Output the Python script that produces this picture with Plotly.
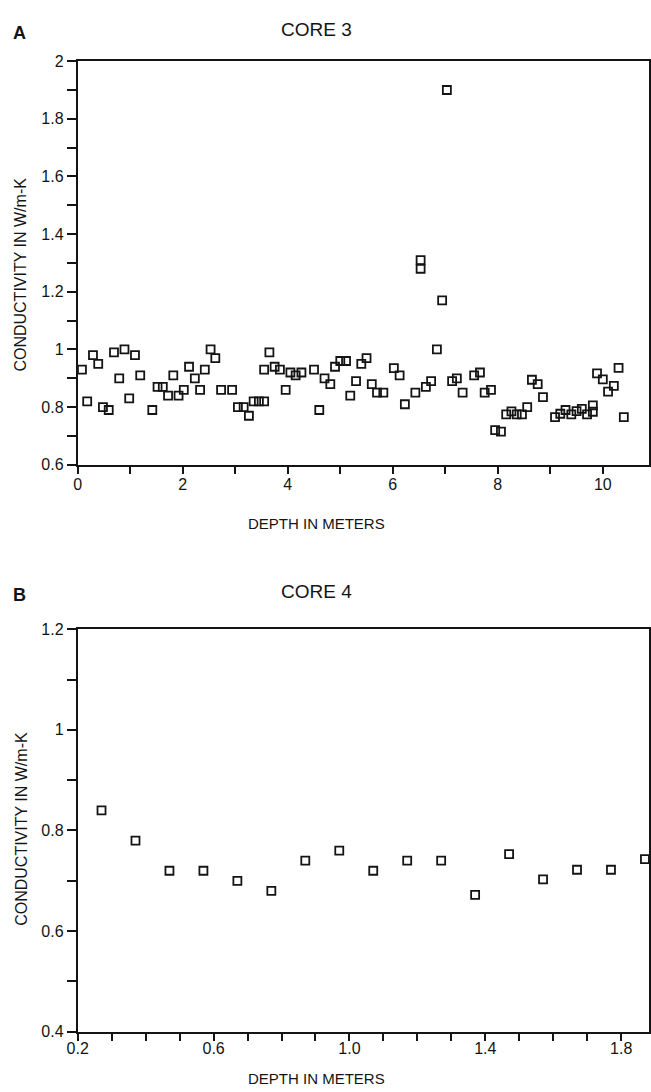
import plotly.graph_objects as go

# ---- Panel A: CORE 3 ----
core3_depth = [0.08, 0.18, 0.29, 0.39, 0.48, 0.59, 0.69, 0.79, 0.89, 0.98,
               1.09, 1.19, 1.42, 1.52, 1.62, 1.72, 1.82, 1.92, 2.02, 2.12,
               2.23, 2.33, 2.42, 2.53, 2.62, 2.73, 2.94, 3.05, 3.16, 3.26,
               3.35, 3.45, 3.55, 3.55, 3.65, 3.75, 3.85, 3.96, 4.05, 4.15,
               4.26, 4.50, 4.60, 4.70, 4.81, 4.90, 5.00, 5.11, 5.19, 5.30,
               5.40, 5.50, 5.60, 5.70, 5.82, 6.02, 6.13, 6.23, 6.43, 6.53,
               6.53, 6.63, 6.73, 6.84, 6.94, 7.03, 7.13, 7.22, 7.33, 7.55,
               7.66, 7.75, 7.87, 7.95, 8.06, 8.16, 8.26, 8.36, 8.46, 8.56,
               8.65, 8.76, 8.86, 9.09, 9.19, 9.29, 9.40, 9.50, 9.60, 9.70,
               9.81, 9.81, 9.89, 10.00, 10.10, 10.21, 10.30, 10.40]
core3_cond = [0.93, 0.82, 0.98, 0.95, 0.80, 0.79, 0.99, 0.90, 1.00, 0.83,
              0.98, 0.91, 0.79, 0.87, 0.87, 0.84, 0.91, 0.84, 0.86, 0.94,
              0.90, 0.86, 0.93, 1.00, 0.97, 0.86, 0.86, 0.80, 0.80, 0.77,
              0.82, 0.82, 0.82, 0.93, 0.99, 0.94, 0.93, 0.86, 0.92, 0.91,
              0.92, 0.93, 0.79, 0.90, 0.88, 0.94, 0.96, 0.96, 0.84, 0.89,
              0.95, 0.97, 0.88, 0.85, 0.85, 0.935, 0.91, 0.81, 0.85, 1.31,
              1.28, 0.87, 0.89, 1.00, 1.17, 1.90, 0.89, 0.90, 0.85, 0.91,
              0.92, 0.85, 0.86, 0.72, 0.715, 0.775, 0.785, 0.775, 0.775, 0.80,
              0.895, 0.88, 0.835, 0.765, 0.777, 0.79, 0.775, 0.786, 0.794, 0.775,
              0.806, 0.784, 0.917, 0.896, 0.854, 0.874, 0.936, 0.765]

# ---- Panel B: CORE 4 ----
core4_depth = [0.27, 0.37, 0.47, 0.57, 0.67, 0.77, 0.87, 0.97, 1.07, 1.17,
               1.27, 1.37, 1.47, 1.57, 1.67, 1.77, 1.87]
core4_cond = [0.84, 0.78, 0.72, 0.72, 0.70, 0.68, 0.74, 0.76, 0.72, 0.74,
              0.74, 0.672, 0.753, 0.703, 0.722, 0.722, 0.743]

# tick labels
a_xticks = [0, 2, 4, 6, 8, 10]
a_yticks = [0.6, 0.8, 1.0, 1.2, 1.4, 1.6, 1.8, 2.0]
a_yticktext = ["0.6", "0.8", "1", "1.2", "1.4", "1.6", "1.8", "2"]
b_xticks = [0.2, 0.6, 1.0, 1.4, 1.8]
b_xticktext = ["0.2", "0.6", "1.0", "1.4", "1.8"]
b_yticks = [0.4, 0.6, 0.8, 1.0, 1.2]
b_yticktext = ["0.4", "0.6", "0.8", "1", "1.2"]

W, H = 651, 1092
FONT = "Liberation Sans, Arial, sans-serif"
INK = "#141414"

def py(p):  # pixel y -> paper
    return 1 - p / H

def px(p):
    return p / W

marker = dict(symbol="square-open", size=8, color=INK, line=dict(width=1.8, color=INK))

fig = go.Figure()
fig.add_trace(go.Scatter(x=core3_depth, y=core3_cond, mode="markers",
                         marker=marker, xaxis="x", yaxis="y", showlegend=False))
fig.add_trace(go.Scatter(x=core4_depth, y=core4_cond, mode="markers",
                         marker=marker, xaxis="x2", yaxis="y2", showlegend=False))

tickfont = dict(family=FONT, size=16, color=INK)
common = dict(showgrid=False, zeroline=False, showline=True, linecolor=INK,
              linewidth=2, mirror=True, ticks="outside", tickcolor=INK,
              tickwidth=1.8, tickfont=tickfont)

x_dom = [px(68), px(650)]
fig.update_layout(
    width=W, height=H, autosize=False,
    margin=dict(l=0, r=0, t=0, b=0),
    paper_bgcolor="white", plot_bgcolor="white",
    xaxis=dict(domain=x_dom, anchor="y", range=[0, 10.88],
               tickvals=a_xticks, ticktext=[str(v) for v in a_xticks],
               ticklen=7, ticklabelstandoff=-3,
               minor=dict(dtick=1, ticks="outside", ticklen=7,
                          tickcolor=INK, tickwidth=1.8),
               **common),
    yaxis=dict(domain=[py(464), py(54)], anchor="x", range=[0.6, 2.0],
               tickvals=a_yticks, ticktext=a_yticktext, ticklen=9,
               minor=dict(dtick=0.1, ticks="outside", ticklen=9,
                          tickcolor=INK, tickwidth=1.8),
               **common),
    xaxis2=dict(domain=x_dom, anchor="y2", range=[0.2, 1.882],
                tickvals=b_xticks, ticktext=b_xticktext, ticklen=7,
                ticklabelstandoff=-6,
                minor=dict(dtick=0.1, ticks="outside", ticklen=7,
                           tickcolor=INK, tickwidth=1.8),
                **common),
    yaxis2=dict(domain=[py(1040), py(631)], anchor="x2", range=[0.4, 1.2],
                tickvals=b_yticks, ticktext=b_yticktext, ticklen=9,
                minor=dict(dtick=0.1, ticks="outside", ticklen=9,
                           tickcolor=INK, tickwidth=1.8),
                **common),
)

ann = []
def text(x, y, s, size, bold=False, angle=0):
    ann.append(dict(x=px(x), y=py(y), xref="paper", yref="paper", text=("<b>%s</b>" % s) if bold else s,
                    showarrow=False, textangle=angle, xanchor="center", yanchor="middle",
                    font=dict(family=FONT, size=size, color=INK)))

text(9, 25, "A", 18, bold=True)
text(311, 22, "CORE 3", 19)
text(10, 271, "CONDUCTIVITY IN W/m-K", 16, angle=-90)
text(311, 524, "DEPTH IN METERS", 15)

text(9, 596, "B", 18, bold=True)
text(311, 593, "CORE 4", 19)
text(10, 834, "CONDUCTIVITY IN W/m-K", 16, angle=-90)
text(311, 1087, "DEPTH IN METERS", 15)

fig.update_layout(annotations=ann)
fig.write_html("out.html")
